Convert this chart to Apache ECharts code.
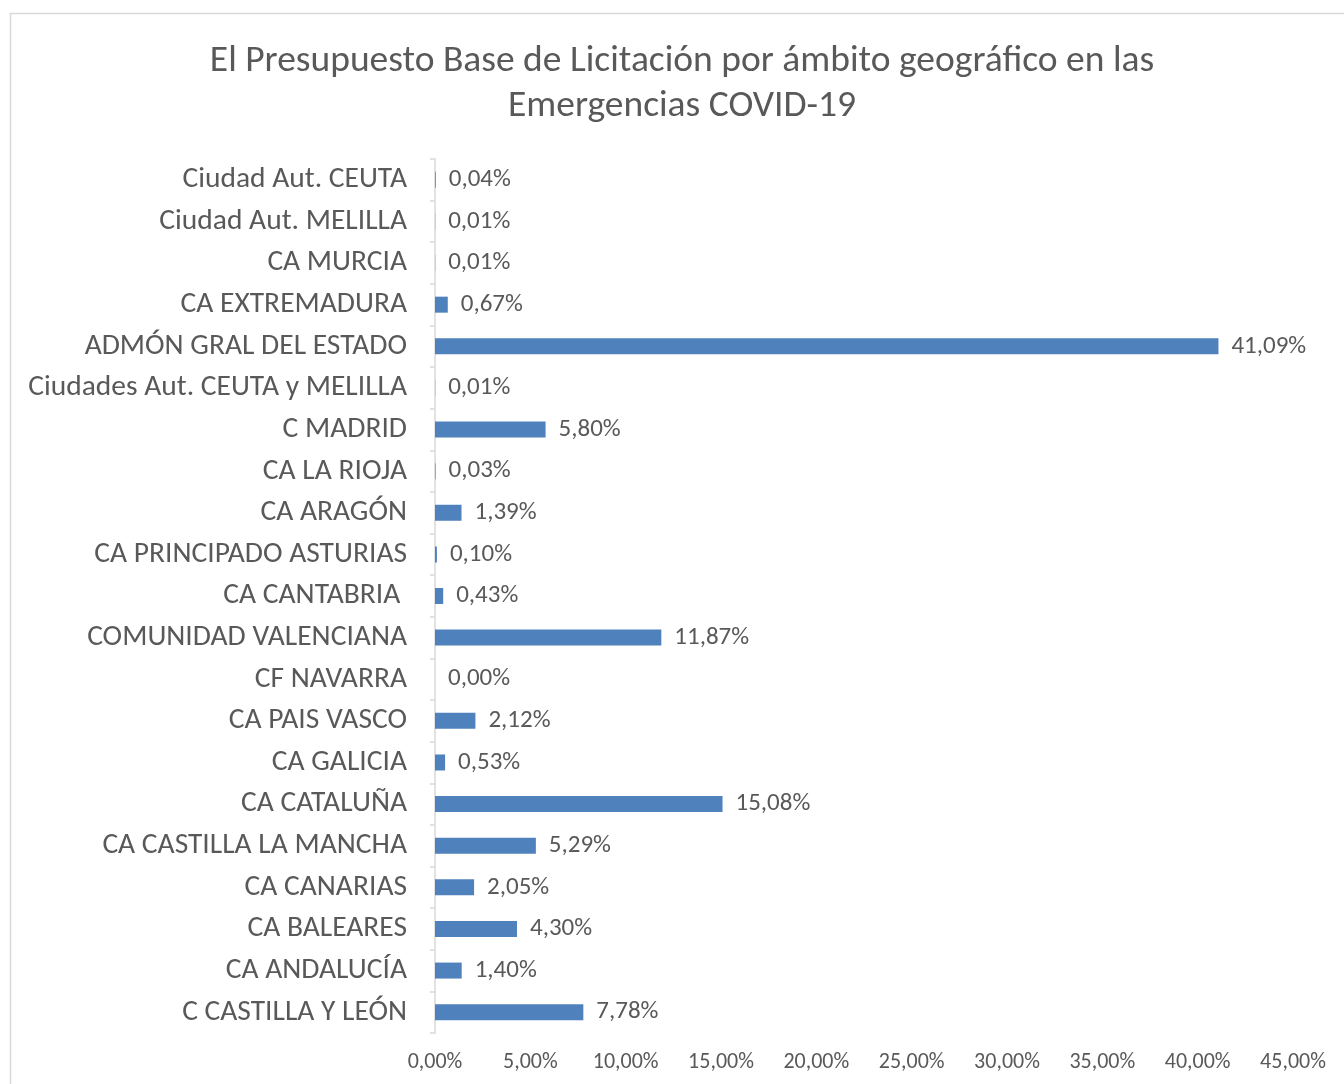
<!DOCTYPE html>
<html><head><meta charset="utf-8">
<script src="https://cdn.jsdelivr.net/npm/echarts@6/dist/echarts.min.js"></script>
<style>html,body{margin:0;padding:0;background:#fff}#c{width:1344px;height:1084px}</style>
</head><body><div id="c"></div>
<script>
const categories = ["C CASTILLA Y LEÓN","CA ANDALUCÍA","CA BALEARES","CA CANARIAS","CA CASTILLA LA MANCHA","CA CATALUÑA","CA GALICIA","CA PAIS VASCO","CF NAVARRA","COMUNIDAD VALENCIANA","CA CANTABRIA ","CA PRINCIPADO ASTURIAS","CA ARAGÓN","CA LA RIOJA","C MADRID","Ciudades Aut. CEUTA y MELILLA","ADMÓN GRAL DEL ESTADO","CA EXTREMADURA","CA MURCIA","Ciudad Aut. MELILLA","Ciudad Aut. CEUTA"];
const values = [7.78,1.40,4.30,2.05,5.29,15.08,0.53,2.12,0.00,11.87,0.43,0.10,1.39,0.03,5.80,0.01,41.09,0.67,0.01,0.01,0.04];
const titleText = "El Presupuesto Base de Licitación por ámbito geográfico en las\nEmergencias COVID-19";
const FONT = "Carlito, 'Open Sans', sans-serif";
const fmt = v => v.toFixed(2).replace('.', ',') + '%';

const chart = echarts.init(document.getElementById('c'), null, {renderer: 'canvas'});
chart.setOption({
  backgroundColor: '#fff',
  animation: false,
  graphic: [{type: 'rect', shape: {x: 10.5, y: 13.5, width: 1400, height: 1200}, style: {fill: 'none', stroke: '#d9d9d9', lineWidth: 1.5}}],
  title: {
    text: titleText, left: 677, top: 34, textAlign: 'center',
    textStyle: {fontFamily: FONT, fontSize: 37.5, fontWeight: 'normal', color: '#595959', lineHeight: 45}
  },
  grid: {left: 435, right: 51, top: 159, bottom: 51},
  xAxis: {
    type: 'value', min: 0, max: 45, interval: 5,
    axisLine: {show: false}, axisTick: {show: false}, splitLine: {show: false},
    axisLabel: {formatter: fmt, fontFamily: FONT, fontSize: 22, color: '#595959', margin: 18}
  },
  yAxis: {
    type: 'category', data: categories,
    axisLine: {show: true, lineStyle: {color: '#d9d9d9', width: 1.5}},
    axisTick: {show: true, length: 5, lineStyle: {color: '#d9d9d9', width: 1.5}},
    axisLabel: {fontFamily: FONT, fontSize: 29.5, color: '#595959', margin: 28}
  },
  series: [{
    type: 'bar', data: values, barWidth: 16,
    itemStyle: {color: '#4f81bd'},
    label: {show: true, position: 'right', distance: 13, formatter: p => fmt(p.value), fontFamily: FONT, fontSize: 25, color: '#595959'}
  }]
});
</script></body></html>
